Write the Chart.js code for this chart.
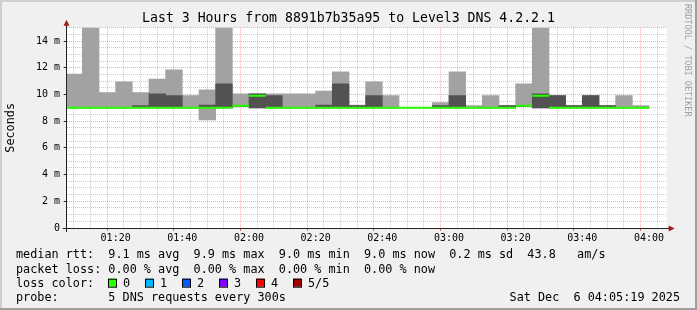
<!DOCTYPE html>
<html>
<head>
<meta charset="utf-8">
<script src="https://cdn.jsdelivr.net/npm/chart.js@4.4.1/dist/chart.umd.min.js"></script>
<style>
  html, body { margin: 0; padding: 0; background: #f0f0f0; }
  canvas { display: block; }
</style>
</head>
<body>
<canvas id="smokeChart" width="697" height="310"></canvas>
<script>
// start of each 5 minute step (300s)
const binTimes = ['01:05','01:10','01:15','01:20','01:25','01:30','01:35','01:40','01:45','01:50',
                  '01:55','02:00','02:05','02:10','02:15','02:20','02:25','02:30','02:35','02:40',
                  '02:45','02:50','02:55','03:00','03:05','03:10','03:15','03:20','03:25','03:30',
                  '03:35','03:40','03:45','03:50','03:55'];

// the 5 pings of each step, sorted (ms)
const pingMin = [9.0, 9.0, 9.0, 9.0, 9.0, 9.0, 9.0, 9.0, 8.09, 9.0,
                 9.08, 9.0, 9.0, 9.0, 9.0, 9.0, 9.0, 9.0, 9.0, 9.0,
                 9.0, 9.0, 9.0, 9.0, 9.0, 9.0, 9.0, 9.08, 9.0, 9.0,
                 9.0, 9.0, 9.0, 9.0, 9.0];
const ping2 = [9.0, 9.0, 9.0, 9.0, 9.0, 9.0, 9.0, 9.0, 9.0, 9.0,
               9.1, 9.0, 9.0, 9.0, 9.0, 9.0, 9.0, 9.0, 9.0, 9.0,
               9.0, 9.0, 9.0, 9.0, 9.0, 9.0, 9.0, 9.1, 9.0, 9.0,
               9.0, 9.0, 9.0, 9.0, 9.0];
const pingMedian = [9.0, 9.0, 9.0, 9.0, 9.0, 9.0, 9.0, 9.0, 9.0, 9.0,
                    9.16, 9.91, 9.0, 9.0, 9.0, 9.0, 9.0, 9.0, 9.0, 9.0,
                    9.0, 9.0, 9.0, 9.0, 9.0, 9.0, 9.0, 9.16, 9.91, 9.0,
                    9.0, 9.0, 9.0, 9.0, 9.0];
const ping4 = [9.0, 9.0, 9.0, 9.0, 9.16, 10.04, 9.91, 9.0, 9.21, 10.79,
               9.16, 10.04, 9.91, 9.0, 9.0, 9.21, 10.79, 9.16, 9.91, 9.0,
               9.0, 9.0, 9.16, 9.91, 9.0, 9.0, 9.16, 9.16, 10.04, 9.91,
               9.16, 9.91, 9.16, 9.0, 9.0];
const pingMax = [11.53, 15.0, 10.14, 10.94, 10.14, 11.16, 11.84, 9.91, 10.34, 15.0,
                 10.04, 10.04, 10.04, 10.04, 10.04, 10.26, 11.69, 9.21, 10.94, 9.91,
                 9.0, 9.0, 9.39, 11.69, 9.16, 9.91, 9.16, 10.79, 15.0, 9.91,
                 9.16, 9.91, 9.16, 9.91, 9.16];

const xTickLabels = ['01:20','01:40','02:00','02:20','02:40','03:00','03:20','03:40','04:00'];
const yTickLabels = ['0','2 m','4 m','6 m','8 m','10 m','12 m','14 m'];

const lossLabels = ['0', '1', '2', '3', '4', '5/5'];
const lossColors = ['#26ff00', '#00b8ff', '#0059ff', '#7e00ff', '#ff0000', '#a10000'];

const titleText = 'Last 3 Hours from 8891b7b35a95 to Level3 DNS 4.2.2.1';
const legendLines = [
    'median rtt:  9.1 ms avg  9.9 ms max  9.0 ms min  9.0 ms now  0.2 ms sd  43.8   am/s',
    'packet loss: 0.00 % avg  0.00 % max  0.00 % min  0.00 % now',
    'loss color:',
    'probe:       5 DNS requests every 300s'
];
const stampText = 'Sat Dec  6 04:05:19 2025';

const MONO = '"DejaVu Sans Mono", monospace';
const STEP = 5; // minutes
const toMin = t => { const [h, m] = t.split(':').map(Number); return h * 60 + m; };
const binStart = binTimes.map(toMin);
const binCenter = binStart.map(s => s + STEP / 2);

// median drawn as short flat pieces, one per step
const medianPts = [];
binStart.forEach((s, i) => {
    medianPts.push({ x: s, y: pingMedian[i] });
    medianPts.push({ x: s + STEP, y: pingMedian[i] });
    medianPts.push({ x: s + STEP, y: null });
});

const xMin = toMin('01:05') + 19 / 60;
const xMax = xMin + 180;

// gridline positions
const xGrid = [];
for (let m = 70; m <= xMax; m += 5) xGrid.push(m);
const yGrid = [];
for (let v = 0; v <= 15; v += 0.5) yGrid.push(v);

const pinkGrid = 'rgba(255, 60, 60, 0.45)';
const grayGrid = 'rgba(120, 120, 120, 0.38)';

// background, frame, axes, title, legend text
const rrdPlugin = {
    id: 'rrdLook',
    beforeDraw(chart) {
        const ctx = chart.ctx, a = chart.chartArea;
        ctx.save();
        ctx.fillStyle = '#f0f0f0';
        ctx.fillRect(0, 0, chart.width, chart.height);
        ctx.fillStyle = '#cfcfcf';
        ctx.fillRect(0, 0, chart.width, 2);
        ctx.fillRect(0, 0, 2, chart.height);
        ctx.fillStyle = '#9e9e9e';
        ctx.fillRect(chart.width - 2, 0, 2, chart.height);
        ctx.fillRect(0, chart.height - 2, chart.width, 2);
        ctx.fillStyle = '#ffffff';
        ctx.fillRect(a.left, a.top, a.right - a.left, a.bottom - a.top);
        ctx.restore();
    },
    afterDraw(chart) {
        const ctx = chart.ctx, a = chart.chartArea;
        ctx.save();
        // title
        ctx.fillStyle = '#000';
        ctx.font = '13.2px ' + MONO;
        ctx.textAlign = 'center';
        ctx.textBaseline = 'middle';
        ctx.fillText(titleText, chart.width / 2, 19);

        // axes
        ctx.strokeStyle = '#222';
        ctx.lineWidth = 1;
        ctx.beginPath();
        ctx.moveTo(Math.round(a.left) - 0.5, a.bottom + 4);
        ctx.lineTo(Math.round(a.left) - 0.5, a.top - 3);
        ctx.moveTo(a.left - 4, Math.round(a.bottom) + 0.5);
        ctx.lineTo(a.right + 3, Math.round(a.bottom) + 0.5);
        ctx.stroke();
        ctx.fillStyle = '#a31b1b';
        const ax = Math.round(a.left) - 0.5;
        ctx.beginPath();
        ctx.moveTo(ax - 3, a.top - 2);
        ctx.lineTo(ax + 3, a.top - 2);
        ctx.lineTo(ax, a.top - 8);
        ctx.closePath();
        ctx.fill();
        const ay = Math.round(a.bottom) + 0.5;
        ctx.beginPath();
        ctx.moveTo(a.right + 2, ay - 3);
        ctx.lineTo(a.right + 2, ay + 3);
        ctx.lineTo(a.right + 8, ay);
        ctx.closePath();
        ctx.fill();

        // legend block
        ctx.fillStyle = '#000';
        ctx.font = '11.8px ' + MONO;
        ctx.textBaseline = 'alphabetic';
        ctx.textAlign = 'left';
        const rows = [258.3, 272.5, 286.7, 300.9];
        legendLines.forEach((t, i) => ctx.fillText(t, 16, rows[i]));
        ctx.textAlign = 'right';
        ctx.fillText(stampText, 680, rows[3]);
        ctx.textAlign = 'left';
        lossLabels.forEach((lab, i) => {
            const bx = 108 + i * 37;
            ctx.fillStyle = lossColors[i];
            ctx.fillRect(bx, rows[2] - 8, 8, 8);
            ctx.strokeStyle = '#000';
            ctx.strokeRect(bx + 0.5, rows[2] - 7.5, 8, 8);
            ctx.fillStyle = '#000';
            ctx.fillText(lab, bx + 15, rows[2]);
        });

        // watermark
        ctx.fillStyle = '#a0a0a0';
        ctx.font = '8.5px ' + MONO;
        ctx.translate(684.5, 4);
        ctx.rotate(Math.PI / 2);
        ctx.textBaseline = 'alphabetic';
        ctx.fillText('RRDTOOL / TOBI OETIKER', 0, 0);
        ctx.restore();
    }
};

const ctx = document.getElementById('smokeChart').getContext('2d');
const smokeChart = new Chart(ctx, {
    type: 'bar',
    data: {
        datasets: [
            {
                type: 'line',
                label: 'median rtt',
                data: medianPts,
                borderColor: lossColors[0],
                borderWidth: 2,
                pointRadius: 0,
                spanGaps: false,
                order: 0
            },
            {
                type: 'bar',
                label: 'inner pings',
                data: binCenter.map((c, i) => ({ x: c, y: [ping2[i], ping4[i]] })),
                backgroundColor: '#525252',
                grouped: false,
                barPercentage: 1,
                categoryPercentage: 1,
                order: 1
            },
            {
                type: 'bar',
                label: 'outer pings',
                data: binCenter.map((c, i) => ({ x: c, y: [pingMin[i], pingMax[i]] })),
                backgroundColor: '#a2a2a2',
                grouped: false,
                barPercentage: 1,
                categoryPercentage: 1,
                order: 2
            }
        ]
    },
    options: {
        responsive: false,
        animation: false,
        devicePixelRatio: 1,
        layout: { padding: { left: 0, top: 27.7, right: 30.3, bottom: 0 } },
        plugins: {
            legend: { display: false },
            tooltip: { enabled: false },
            title: { display: false }
        },
        scales: {
            x: {
                type: 'linear',
                min: xMin,
                max: xMax,
                bounds: 'data',
                offset: false,
                afterBuildTicks: s => { s.ticks = xGrid.map(v => ({ value: v })); },
                afterFit: s => { s.height = 82; },
                ticks: {
                    autoSkip: false,
                    maxRotation: 0,
                    padding: 1,
                    color: '#000',
                    font: { family: MONO, size: 10 },
                    callback: v => (v % 20 === 0 ? xTickLabels[(v - 80) / 20] : '')
                },
                grid: {
                    color: c => (c.tick && c.tick.value % 20 === 0 ? pinkGrid : grayGrid),
                    tickColor: c => (c.tick && c.tick.value % 20 === 0 ? '#e06060' : 'rgba(0,0,0,0)'),
                    tickLength: 3,
                    lineWidth: 1
                },
                border: { display: false, dash: [1, 1] }
            },
            y: {
                min: 0,
                max: 15,
                bounds: 'data',
                afterBuildTicks: s => { s.ticks = yGrid.map(v => ({ value: v })); },
                afterFit: s => { s.width = 66.7; },
                ticks: {
                    autoSkip: false,
                    padding: 3.7,
                    color: '#000',
                    font: { family: MONO, size: 10 },
                    callback: v => (v % 2 === 0 ? yTickLabels[v / 2] : '')
                },
                grid: {
                    color: c => (c.tick && c.tick.value % 2 === 0 ? pinkGrid : grayGrid),
                    tickColor: c => (c.tick && c.tick.value % 2 === 0 ? '#222' : 'rgba(0,0,0,0)'),
                    tickLength: 3,
                    lineWidth: 1
                },
                border: { display: false, dash: [1, 1] },
                title: {
                    display: true,
                    text: 'Seconds',
                    color: '#000',
                    font: { family: MONO, size: 11.8 },
                    padding: { top: 3.4, bottom: 0 }
                }
            }
        }
    },
    plugins: [rrdPlugin]
});
</script>
</body>
</html>
